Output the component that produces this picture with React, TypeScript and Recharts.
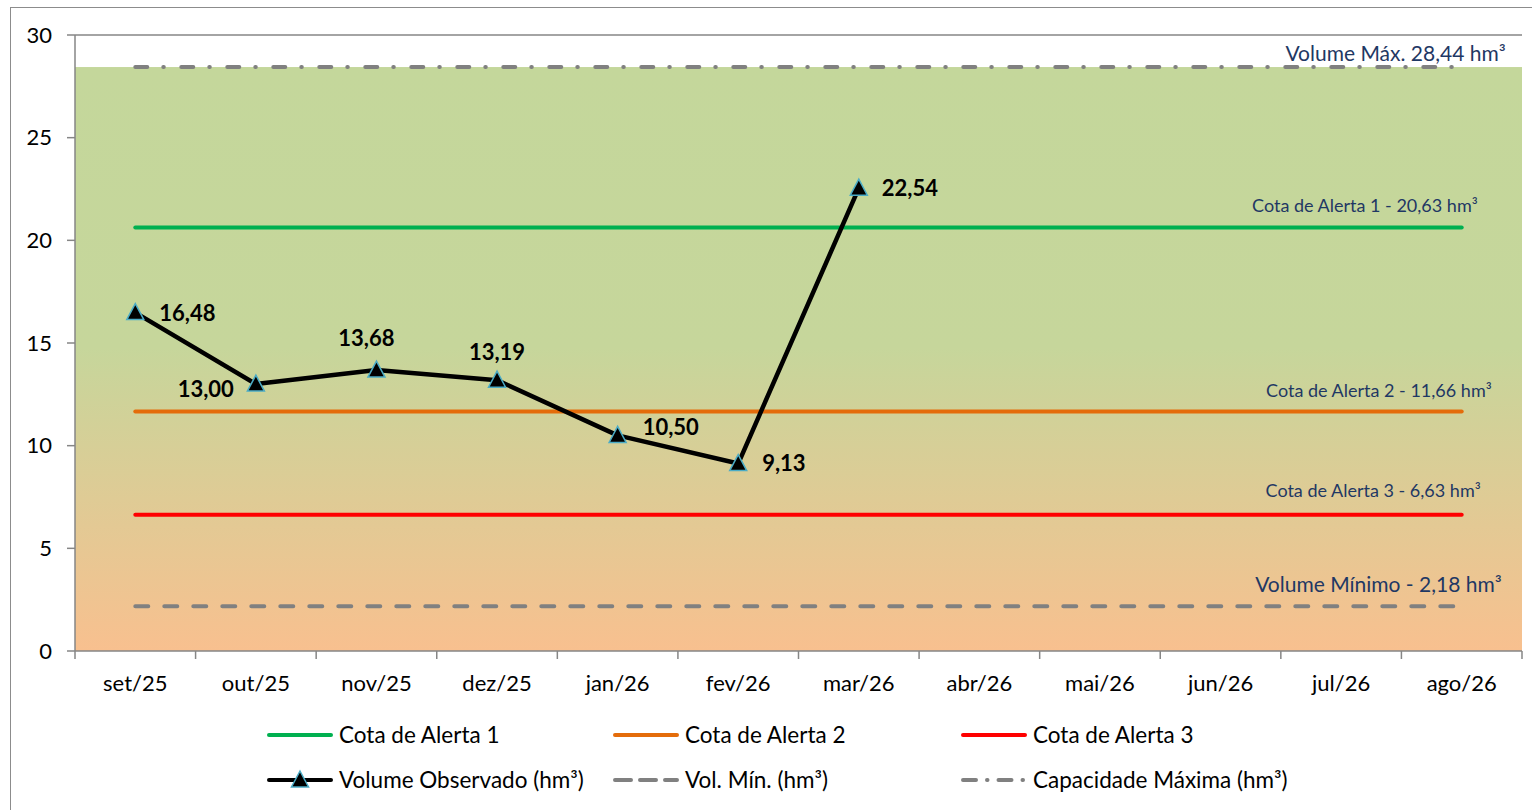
import { LineChart, Line, XAxis, YAxis, ReferenceLine, ReferenceArea, Legend } from 'recharts'

const months = ['set/25', 'out/25', 'nov/25', 'dez/25', 'jan/26', 'fev/26', 'mar/26', 'abr/26', 'mai/26', 'jun/26', 'jul/26', 'ago/26']
const observed = [16.48, 13.0, 13.68, 13.19, 10.5, 9.13, 22.54, null, null, null, null, null]
const alert1 = [20.63, 20.63, 20.63, 20.63, 20.63, 20.63, 20.63, 20.63, 20.63, 20.63, 20.63, 20.63]
const alert2 = [11.66, 11.66, 11.66, 11.66, 11.66, 11.66, 11.66, 11.66, 11.66, 11.66, 11.66, 11.66]
const alert3 = [6.63, 6.63, 6.63, 6.63, 6.63, 6.63, 6.63, 6.63, 6.63, 6.63, 6.63, 6.63]
const volMin = [2.18, 2.18, 2.18, 2.18, 2.18, 2.18, 2.18, 2.18, 2.18, 2.18, 2.18, 2.18]
const volMax = [28.44, 28.44, 28.44, 28.44, 28.44, 28.44, 28.44, 28.44, 28.44, 28.44, 28.44, 28.44]
const yTicks = [0, 5, 10, 15, 20, 25, 30]

const data = months.map((m, i) => ({
  month: m,
  observed: observed[i],
  alert1: alert1[i],
  alert2: alert2[i],
  alert3: alert3[i],
  volMin: volMin[i],
  volMax: volMax[i],
}))

const FONT = 'Lato, sans-serif'
const AXIS = '#868686'
const NOTE = '#1f3864'
const BW = (1522 - 75) / 12

const fmt = (v: number) => v.toFixed(2).replace('.', ',')

// line styles
const series = [
  { key: 'alert1', name: 'Cota de Alerta 1', color: '#00b050', dash: undefined, note: 'Cota de Alerta 1 - 20,63 hm³', noteSize: 18, noteDx: 16, noteDy: -22 },
  { key: 'alert2', name: 'Cota de Alerta 2', color: '#e46c0a', dash: undefined, note: 'Cota de Alerta 2 - 11,66 hm³', noteSize: 18, noteDx: 30, noteDy: -21 },
  { key: 'alert3', name: 'Cota de Alerta 3', color: '#ff0000', dash: undefined, note: 'Cota de Alerta 3 - 6,63 hm³', noteSize: 18, noteDx: 19, noteDy: -24 },
  { key: 'observed', name: 'Volume Observado (hm³)', color: '#000000', dash: undefined, note: '', noteSize: 0, noteDx: 0, noteDy: 0 },
  { key: 'volMin', name: 'Vol. Mín. (hm³)', color: '#808080', dash: '13 16', note: 'Volume Mínimo - 2,18 hm³', noteSize: 21, noteDx: 40, noteDy: -22 },
  { key: 'volMax', name: 'Capacidade Máxima (hm³)', color: '#808080', dash: '12 16 0.5 17.5', note: 'Volume Máx. 28,44 hm³', noteSize: 21, noteDx: 44, noteDy: -13 },
]

// data label offsets for the observed series
const obsLabelPos = [
  { dx: 24, dy: 1, anchor: 'start' },
  { dx: -22, dy: 5, anchor: 'end' },
  { dx: -10, dy: -32, anchor: 'middle' },
  { dx: 0, dy: -28, anchor: 'middle' },
  { dx: 25, dy: -8, anchor: 'start' },
  { dx: 24, dy: 0, anchor: 'start' },
  { dx: 23, dy: 0, anchor: 'start' },
]

function Triangle({ cx, cy }: { cx: number; cy: number }) {
  return (
    <path
      d={`M${cx},${cy - 9} L${cx + 8.5},${cy + 7} L${cx - 8.5},${cy + 7} Z`}
      fill="#000"
      stroke="#4bacc6"
      strokeWidth={1.5}
    />
  )
}

function MonthTick(props: any) {
  const { x, y, payload, index } = props
  const last = index === months.length - 1
  return (
    <g>
      <line x1={x - BW / 2} y1={y} x2={x - BW / 2} y2={y + 8} stroke={AXIS} strokeWidth={1.5} />
      {last && <line x1={x + BW / 2} y1={y} x2={x + BW / 2} y2={y + 8} stroke={AXIS} strokeWidth={1.5} />}
      <text x={x} y={y + 40} textAnchor="middle" fontSize={22} fontFamily={FONT} fill="#000">
        {payload.value}
      </text>
    </g>
  )
}

function renderLegend() {
  const cols = [267, 613, 961]
  const rows = [44, 89]
  return (
    <svg width={1532} height={105} style={{ display: 'block' }}>
      {series.map((s, i) => {
        const x = cols[i % 3]
        const y = rows[Math.floor(i / 3)]
        return (
          <g key={s.key}>
            <line
              x1={x + 2}
              y1={y}
              x2={x + 64}
              y2={y}
              stroke={s.color}
              strokeWidth={4}
              strokeLinecap="round"
              strokeDasharray={s.key === 'volMin' ? '16 9' : s.key === 'volMax' ? '13 11 0.5 11' : undefined}
            />
            {s.key === 'observed' && <Triangle cx={x + 33} cy={y} />}
            <text x={x + 72} y={y + 8} fontSize={22.5} fontFamily={FONT} fill="#000">
              {s.name}
            </text>
          </g>
        )
      })}
    </svg>
  )
}

// background spans the full category bands, not just the point range
function FullWidthArea(p: any) {
  return <rect x={p.x - BW / 2} y={p.y} width={p.width + BW} height={p.height} fill="url(#bgGrad)" />
}

export default function App() {
  return (
    <div style={{ position: 'absolute', left: 0, top: 0, width: 1532, height: 810, overflow: 'hidden', background: '#fff' }}>
      <div style={{ position: 'absolute', left: 10, top: 7, width: 1540, height: 830, border: '1.5px solid #8c8c8c' }} />
      <div style={{ position: 'absolute', left: 0, top: 0 }}>
        <LineChart width={1532} height={810} data={data} margin={{ top: 35, right: 10, left: 0, bottom: 14 }}>
          <defs>
            <linearGradient id="bgGrad" x1="0" y1="0" x2="0" y2="1">
              <stop offset="0%" stopColor="#c4d79b" />
              <stop offset="48%" stopColor="#c6d69b" />
              <stop offset="100%" stopColor="#f8c08f" />
            </linearGradient>
          </defs>
          <ReferenceArea y1={0} y2={28.44} shape={FullWidthArea} />
          <ReferenceLine y={30} stroke={AXIS} strokeWidth={1.5} />
          <XAxis
            dataKey="month"
            padding={{ left: BW / 2, right: BW / 2 }}
            axisLine={{ stroke: AXIS, strokeWidth: 1.5 }}
            tickLine={false}
            tickSize={0}
            tickMargin={0}
            interval={0}
            height={40}
            tick={<MonthTick />}
          />
          <YAxis
            domain={[0, 30]}
            ticks={yTicks}
            width={75}
            axisLine={{ stroke: AXIS, strokeWidth: 1.5 }}
            tickLine={{ stroke: AXIS, strokeWidth: 1.5 }}
            tickSize={8}
            tickMargin={15}
            tick={{ fontSize: 22, fill: '#000', fontFamily: FONT }}
          />
          {[...series].reverse().filter((s) => s.key !== 'observed').map((s) => (
            <Line
              key={s.key}
              dataKey={s.key}
              name={s.name}
              stroke={s.color}
              strokeWidth={4}
              strokeDasharray={s.dash}
              strokeLinecap="round"
              dot={false}
              activeDot={false}
              isAnimationActive={false}
              label={(p: any) =>
                p.index === months.length - 1 ? (
                  <text
                    key={`${s.key}-note`}
                    x={p.x + s.noteDx}
                    y={p.y + s.noteDy}
                    dy="0.35em"
                    textAnchor="end"
                    fontSize={s.noteSize}
                    fontFamily={FONT}
                    fill={NOTE}
                  >
                    {s.note}
                  </text>
                ) : (
                  <g key={`${s.key}-${p.index}`} />
                )
              }
            />
          ))}
          <Line
            dataKey="observed"
            name="Volume Observado (hm³)"
            stroke="#000"
            strokeWidth={4.5}
            strokeLinejoin="round"
            isAnimationActive={false}
            activeDot={false}
            dot={(p: any) =>
              p.value == null || p.cy == null ? <g key={`d-${p.index}`} /> : <Triangle key={`d-${p.index}`} cx={p.cx} cy={p.cy} />
            }
            label={(p: any) => {
              const pos = obsLabelPos[p.index]
              if (p.value == null || !pos) return <g key={`l-${p.index}`} />
              return (
                <text
                  key={`l-${p.index}`}
                  x={p.x + pos.dx}
                  y={p.y + pos.dy}
                  dy="0.35em"
                  textAnchor={pos.anchor}
                  fontSize={22}
                  fontWeight="bold"
                  fontFamily={FONT}
                  fill="#000"
                >
                  {fmt(p.value)}
                </text>
              )
            }}
          />
          <Legend
            verticalAlign="bottom"
            height={105}
            content={renderLegend}
            wrapperStyle={{ left: 0, width: 1532 }}
          />
        </LineChart>
      </div>
    </div>
  )
}
